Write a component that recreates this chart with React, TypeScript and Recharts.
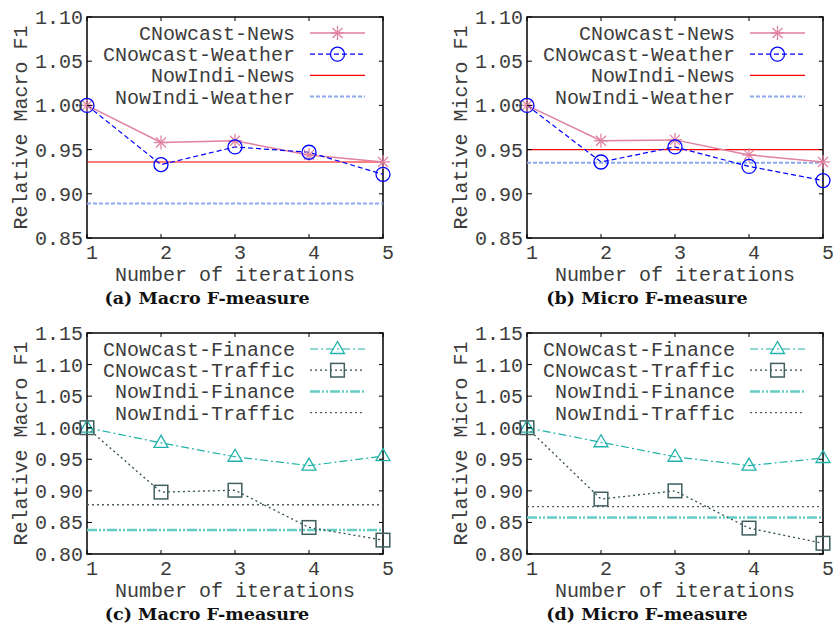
import React from 'react';
import { LineChart, Line, XAxis, YAxis, ReferenceLine, ReferenceArea, Legend } from 'recharts';

// ---------- data ----------
const iterations = [1, 2, 3, 4, 5];
const xTicks = [1, 2, 3, 4, 5];
const yTicksTop = [0.85, 0.9, 0.95, 1.0, 1.05, 1.1];
const yTicksBottom = [0.8, 0.85, 0.9, 0.95, 1.0, 1.05, 1.1, 1.15];

// (a) Macro F-measure
const aCNowcastNews = [1.0, 0.958, 0.96, 0.944, 0.936];
const aCNowcastWeather = [1.0, 0.933, 0.953, 0.947, 0.922];
const aNowIndiNews = 0.936;
const aNowIndiWeather = 0.889;

// (b) Micro F-measure
const bCNowcastNews = [1.0, 0.96, 0.961, 0.944, 0.936];
const bCNowcastWeather = [1.0, 0.936, 0.953, 0.931, 0.915];
const bNowIndiNews = 0.95;
const bNowIndiWeather = 0.935;

// (c) Macro F-measure
const cCNowcastFinance = [1.0, 0.976, 0.954, 0.94, 0.955];
const cCNowcastTraffic = [1.0, 0.898, 0.901, 0.842, 0.822];
const cNowIndiFinance = 0.838;
const cNowIndiTraffic = 0.878;

// (d) Micro F-measure
const dCNowcastFinance = [1.0, 0.977, 0.954, 0.94, 0.952];
const dCNowcastTraffic = [1.0, 0.887, 0.9, 0.841, 0.817];
const dNowIndiFinance = 0.858;
const dNowIndiTraffic = 0.875;

// ---------- styling ----------
const FONT = '"Liberation Mono", "DejaVu Sans Mono", monospace';
const TXT = '#3c3c3c';
const W = 420;
const H = 310;
const M_TOP = 17;
const M_RIGHT = 37;
const Y_W = 87;
const X_H = 72;
const PW = W - Y_W - M_RIGHT;
const PH = H - M_TOP - X_H;

type MarkerKind = 'star' | 'circle' | 'triangle' | 'square' | 'none';
interface SStyle { color: string; width: number; dash?: string; marker: MarkerKind; markerColor?: string; }

const newsStyle: SStyle = { color: '#e0819f', width: 1.5, marker: 'star' };
const weatherStyle: SStyle = { color: '#0000ff', width: 1.2, dash: '5 3', marker: 'circle' };
const nowNewsStyle: SStyle = { color: '#ff0000', width: 1.2, marker: 'none' };
const nowWeatherStyle: SStyle = { color: '#8aa8ee', width: 2, dash: '4 2', marker: 'none' };
const financeStyle: SStyle = { color: '#20b2aa', width: 1.2, dash: '8 3 2 3', marker: 'triangle' };
const trafficStyle: SStyle = { color: '#2f4f4f', width: 1.3, dash: '2 3', marker: 'square', markerColor: '#3f5e5e' };
const nowFinanceStyle: SStyle = { color: '#66cdc4', width: 2.5, dash: '10 2 2 2 2 2', marker: 'none' };
const nowTrafficStyle: SStyle = { color: '#4f5f5f', width: 1.3, dash: '2 3', marker: 'none' };

function Marker({ kind, cx, cy, color }: { kind: MarkerKind; cx: number; cy: number; color: string }) {
  if (cx == null || cy == null || kind === 'none') return <g />;
  if (kind === 'star') {
    const r = 7;
    const d = 5;
    return (
      <g stroke={color} strokeWidth={1.3}>
        <line x1={cx - r} x2={cx + r} y1={cy} y2={cy} />
        <line x1={cx} x2={cx} y1={cy - r} y2={cy + r} />
        <line x1={cx - d} x2={cx + d} y1={cy - d} y2={cy + d} />
        <line x1={cx - d} x2={cx + d} y1={cy + d} y2={cy - d} />
      </g>
    );
  }
  if (kind === 'circle') return <circle cx={cx} cy={cy} r={7} fill="none" stroke={color} strokeWidth={1.3} />;
  if (kind === 'triangle')
    return (
      <polygon
        points={`${cx},${cy - 7.5} ${cx - 7},${cy + 4.5} ${cx + 7},${cy + 4.5}`}
        fill="none"
        stroke={color}
        strokeWidth={1.3}
      />
    );
  return <rect x={cx - 6.8} y={cy - 6.8} width={13.6} height={13.6} fill="none" stroke={color} strokeWidth={1.5} />;
}

const XTick = (p: any) => {
  const { x, y, payload } = p;
  return (
    <g>
      <line x1={x} x2={x} y1={y} y2={y - 4} stroke="#000" strokeWidth={1} />
      <line x1={x} x2={x} y1={y - PH} y2={y - PH + 4} stroke="#000" strokeWidth={1} />
      <text x={x + 5} y={y + 21} textAnchor="middle" fontFamily={FONT} fontSize={20} fill={TXT}>
        {String(payload.value)}
      </text>
    </g>
  );
};

const YTick = (p: any) => {
  const { x, y, payload } = p;
  return (
    <g>
      <line x1={x} x2={x + 5} y1={y} y2={y} stroke="#000" strokeWidth={1} />
      <line x1={x + PW - 4} x2={x + PW} y1={y} y2={y} stroke="#000" strokeWidth={1} />
      <text x={x - 4} y={y + 7} textAnchor="end" fontFamily={FONT} fontSize={20} fill={TXT}>
        {Number(payload.value).toFixed(2)}
      </text>
    </g>
  );
};

interface SeriesDef { key: string; name: string; values: number[]; style: SStyle; }
interface BaseDef { name: string; value: number; style: SStyle; }

function LegendBox({ items }: { items: { name: string; style: SStyle }[] }) {
  return (
    <svg width={W} height={110} style={{ display: 'block', overflow: 'visible' }}>
      {items.map((it, i) => {
        const cy = M_TOP + 16 + 21.2 * i;
        const s = it.style;
        return (
          <g key={it.name}>
            <text x={295} y={cy + 7} textAnchor="end" fontFamily={FONT} fontSize={20} fill={TXT}>
              {it.name}
            </text>
            <line x1={310} x2={365} y1={cy} y2={cy} stroke={s.color} strokeWidth={s.width} strokeDasharray={s.dash} />
            <Marker kind={s.marker} cx={337.5} cy={cy} color={s.markerColor || s.color} />
          </g>
        );
      })}
    </svg>
  );
}

function Panel(props: {
  left: number;
  top: number;
  yLabel: string;
  caption: string;
  domain: [number, number];
  yTicks: number[];
  series: SeriesDef[];
  baselines: BaseDef[];
}) {
  const { left, top, yLabel, caption, domain, yTicks, series, baselines } = props;
  const data = iterations.map((x, i) => {
    const row: any = { x };
    series.forEach((s) => (row[s.key] = s.values[i]));
    return row;
  });
  const legendItems = [
    ...series.map((s) => ({ name: s.name, style: s.style })),
    ...baselines.map((b) => ({ name: b.name, style: b.style })),
  ];
  return (
    <div style={{ position: 'absolute', left, top, width: W, height: H }}>
      <LineChart width={W} height={H} data={data} margin={{ top: M_TOP, right: M_RIGHT, bottom: 0, left: 0 }}>
        <XAxis
          type="number"
          dataKey="x"
          domain={[1, 5]}
          ticks={xTicks}
          interval={0}
          tickSize={0}
          tickMargin={0}
          axisLine={false}
          height={X_H}
          tick={(p: any) => <XTick {...p} />}
          label={(lp: any) => {
            const vb = lp.viewBox || { x: Y_W, y: M_TOP + PH, width: PW };
            const cx = vb.x + vb.width / 2;
            return (
              <g>
                <text x={cx} y={vb.y + 43} textAnchor="middle" fontFamily={FONT} fontSize={20} fill={TXT}>
                  Number of iterations
                </text>
                <text
                  x={cx - 28}
                  y={vb.y + 66}
                  textAnchor="middle"
                  fontFamily='"DejaVu Serif", serif'
                  fontWeight="bold"
                  fontSize={17.5}
                  fill="#111"
                >
                  {caption}
                </text>
              </g>
            );
          }}
        />
        <YAxis
          type="number"
          domain={domain}
          ticks={yTicks}
          interval={0}
          tickSize={0}
          tickMargin={0}
          axisLine={false}
          width={Y_W}
          tick={(p: any) => <YTick {...p} />}
          label={(lp: any) => {
            const vb = lp.viewBox || { x: 0, y: M_TOP, height: PH };
            const tx = vb.x + 27;
            const ty = vb.y + vb.height / 2;
            return (
              <text
                x={tx}
                y={ty}
                transform={`rotate(-90, ${tx}, ${ty})`}
                textAnchor="middle"
                fontFamily={FONT}
                fontSize={20}
                fill={TXT}
              >
                {yLabel}
              </text>
            );
          }}
        />
        <ReferenceArea
          x1={1}
          x2={5}
          y1={domain[0]}
          y2={domain[1]}
          fill="none"
          fillOpacity={0}
          stroke="#000"
          strokeWidth={1.5}
          ifOverflow="visible"
        />
        {baselines.map((b) => (
          <ReferenceLine
            key={b.name}
            y={b.value}
            stroke={b.style.color}
            strokeWidth={b.style.width}
            strokeDasharray={b.style.dash}
            ifOverflow="visible"
          />
        ))}
        {series.map((s) => (
          <Line
            key={s.key}
            dataKey={s.key}
            name={s.name}
            type="linear"
            stroke={s.style.color}
            strokeWidth={s.style.width}
            strokeDasharray={s.style.dash}
            isAnimationActive={false}
            activeDot={false}
            dot={(dp: any) => (
              <Marker
                key={`${s.key}-${dp.index}`}
                kind={s.style.marker}
                cx={dp.cx}
                cy={dp.cy}
                color={s.style.markerColor || s.style.color}
              />
            )}
          />
        ))}
        <Legend
          layout="horizontal"
          verticalAlign="middle"
          align="center"
          wrapperStyle={{ position: 'absolute', left: 0, top: 0, width: W, height: 110, margin: 0, padding: 0 }}
          content={() => <LegendBox items={legendItems} />}
        />
      </LineChart>
    </div>
  );
}

export default function App() {
  return (
    <div
      style={{
        position: 'absolute',
        left: 0,
        top: 0,
        width: 833,
        height: 624,
        overflow: 'hidden',
        background: '#fff',
      }}
    >
      <Panel
        left={0}
        top={0}
        yLabel="Relative Macro F1"
        caption="(a) Macro F-measure"
        domain={[0.85, 1.1]}
        yTicks={yTicksTop}
        series={[
          { key: 'news', name: 'CNowcast-News', values: aCNowcastNews, style: newsStyle },
          { key: 'weather', name: 'CNowcast-Weather', values: aCNowcastWeather, style: weatherStyle },
        ]}
        baselines={[
          { name: 'NowIndi-News', value: aNowIndiNews, style: nowNewsStyle },
          { name: 'NowIndi-Weather', value: aNowIndiWeather, style: nowWeatherStyle },
        ]}
      />
      <Panel
        left={440}
        top={0}
        yLabel="Relative Micro F1"
        caption="(b) Micro F-measure"
        domain={[0.85, 1.1]}
        yTicks={yTicksTop}
        series={[
          { key: 'news', name: 'CNowcast-News', values: bCNowcastNews, style: newsStyle },
          { key: 'weather', name: 'CNowcast-Weather', values: bCNowcastWeather, style: weatherStyle },
        ]}
        baselines={[
          { name: 'NowIndi-News', value: bNowIndiNews, style: nowNewsStyle },
          { name: 'NowIndi-Weather', value: bNowIndiWeather, style: nowWeatherStyle },
        ]}
      />
      <Panel
        left={0}
        top={316}
        yLabel="Relative Macro F1"
        caption="(c) Macro F-measure"
        domain={[0.8, 1.15]}
        yTicks={yTicksBottom}
        series={[
          { key: 'finance', name: 'CNowcast-Finance', values: cCNowcastFinance, style: financeStyle },
          { key: 'traffic', name: 'CNowcast-Traffic', values: cCNowcastTraffic, style: trafficStyle },
        ]}
        baselines={[
          { name: 'NowIndi-Finance', value: cNowIndiFinance, style: nowFinanceStyle },
          { name: 'NowIndi-Traffic', value: cNowIndiTraffic, style: nowTrafficStyle },
        ]}
      />
      <Panel
        left={440}
        top={316}
        yLabel="Relative Micro F1"
        caption="(d) Micro F-measure"
        domain={[0.8, 1.15]}
        yTicks={yTicksBottom}
        series={[
          { key: 'finance', name: 'CNowcast-Finance', values: dCNowcastFinance, style: financeStyle },
          { key: 'traffic', name: 'CNowcast-Traffic', values: dCNowcastTraffic, style: trafficStyle },
        ]}
        baselines={[
          { name: 'NowIndi-Finance', value: dNowIndiFinance, style: nowFinanceStyle },
          { name: 'NowIndi-Traffic', value: dNowIndiTraffic, style: nowTrafficStyle },
        ]}
      />
    </div>
  );
}
